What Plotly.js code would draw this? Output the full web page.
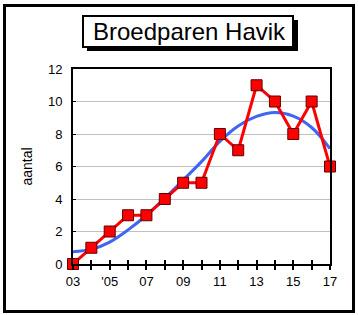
<!DOCTYPE html>
<html><head><meta charset="utf-8">
<script src="https://cdn.plot.ly/plotly-3.0.1.min.js"></script>
<style>
html,body{margin:0;padding:0;background:#fff;}
#wrap{position:relative;width:358px;height:315px;}
#chart{width:358px;height:315px;}
#frame{position:absolute;left:3px;top:4px;width:346px;height:303px;border:3px solid #000;pointer-events:none;}
</style></head>
<body>
<div id="wrap"><div id="chart"></div><div id="frame"></div></div>
<script>
const years = [2003,2004,2005,2006,2007,2008,2009,2010,2011,2012,2013,2014,2015,2016,2017];
const pairs = [0,1,2,3,3,4,5,5,8,7,11,10,8,10,6];
const trend = [0.76,0.9,1.35,2.1,3.0,4.05,5.17,6.3,7.55,8.5,9.08,9.32,9.1,8.4,7.1];
const tickLabels = ['03','','\'05','','07','','09','','11','','13','','15','','17'];
const yTicks = [0,2,4,6,8,10,12];
const titleText = 'Broedparen Havik';

const font = {family:'Arial, "Liberation Sans", sans-serif', color:'#000'};

// pixel -> paper helpers (plot area 73..330 x 69..264)
const L=73, R=330, T=69, B=264;
const px = v => (v-L)/(R-L);
const py = v => (B-v)/(B-T);

const data = [
  {x:years, y:trend, type:'scatter', mode:'lines', line:{color:'#3f66f0', width:3, shape:'spline', smoothing:1}, hoverinfo:'skip', cliponaxis:false},
  {x:years, y:pairs, type:'scatter', mode:'lines+markers', line:{color:'#ff0000', width:3},
   marker:{symbol:'square', size:11, color:'#ff0000', line:{color:'#600000', width:1}}, cliponaxis:false},
  {x:[years[0]], y:[pairs[0]], xaxis:'x2', type:'scatter', mode:'markers', marker:{opacity:0}, hoverinfo:'skip'}
];

const layout = {
  width:358, height:315,
  margin:{l:L, r:358-R, t:T, b:315-B},
  paper_bgcolor:'#fff', plot_bgcolor:'#fff',
  showlegend:false,
  font:font,
  xaxis:{range:[2003,2017], tickvals:years, ticktext:tickLabels, ticks:'outside', ticklen:4, tickwidth:2, tickcolor:'#000',
         showgrid:false, zeroline:false, showline:true, linecolor:'#000', linewidth:2, mirror:true,
         tickfont:{family:font.family, size:13, color:'#000'}},
  xaxis2:{range:[2003,2017], overlaying:'x', tickvals:years, ticks:'inside', ticklen:4, tickwidth:2, tickcolor:'#000',
          showticklabels:false, showgrid:false, zeroline:false, showline:false},
  yaxis:{range:[0,12], tickvals:yTicks, ticks:'inside', ticklen:3, tickwidth:1, tickcolor:'#000', ticklabelstandoff:6,
         showgrid:true, gridcolor:'#c0c0c0', gridwidth:1, zeroline:false, showline:true, linecolor:'#000', linewidth:2, mirror:true,
         tickfont:{family:font.family, size:13, color:'#000'},
         title:{text:'aantal', font:{family:font.family, size:14, color:'#000'}, standoff:12}},
  shapes:[
    {type:'rect', xref:'paper', yref:'paper', x0:px(87), x1:px(298), y0:py(51), y1:py(20), fillcolor:'#000', line:{width:0}, layer:'above'},
    {type:'rect', xref:'paper', yref:'paper', x0:px(83), x1:px(293), y0:py(47), y1:py(16), fillcolor:'#fff', line:{color:'#000', width:2}, layer:'above'}
  ],
  annotations:[
    {xref:'paper', yref:'paper', x:px(189), y:py(31.5), text:titleText, showarrow:false,
     font:{family:font.family, size:24, color:'#000'}, xanchor:'center', yanchor:'middle'}
  ]
};

Plotly.newPlot('chart', data, layout, {displayModeBar:false, staticPlot:true});
</script>
</body></html>
